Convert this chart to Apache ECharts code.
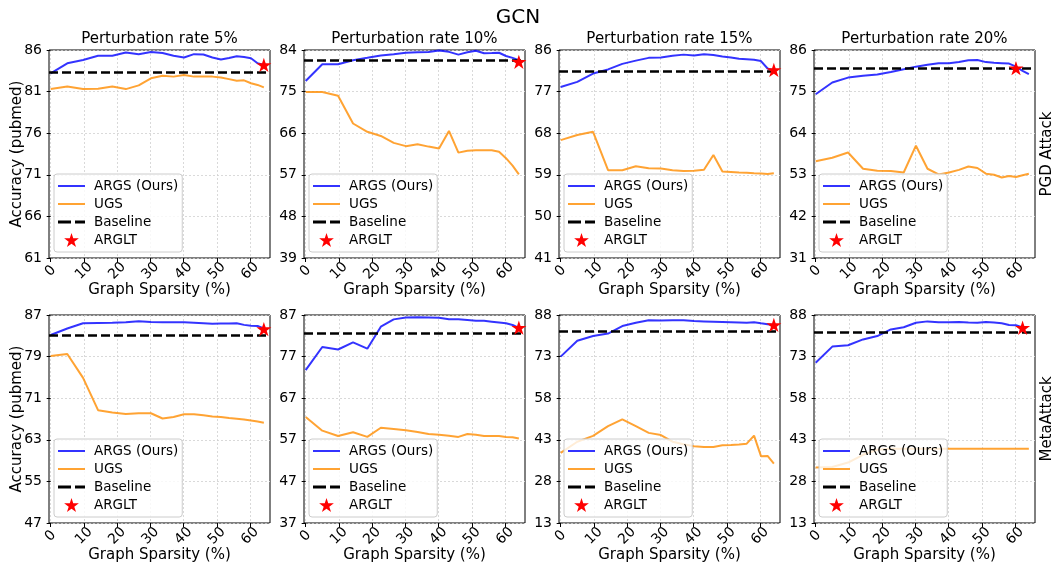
<!DOCTYPE html>
<html><head><meta charset="utf-8">
<script src="https://cdn.jsdelivr.net/npm/echarts@6/dist/echarts.min.js"></script>
<style>html,body{margin:0;padding:0;background:#fff}#c{width:1054px;height:568px}</style>
</head><body><div id="c"></div>
<script>
const sparsity = [0, 5, 9.75, 14.26, 18.55, 22.62, 26.49, 30.17, 33.66, 36.98, 40.13, 43.12, 45.96, 48.67, 51.23, 53.67, 55.99, 58.19, 60.28, 62.26, 64.15];
const xTicks = [0, 10, 20, 30, 40, 50, 60];
const panelTitles = ['Perturbation rate 5%', 'Perturbation rate 10%', 'Perturbation rate 15%', 'Perturbation rate 20%'];
const rowLabels = ['PGD Attack', 'MetaAttack'];
const yTicks = [
  [61, 66, 71, 76, 81, 86], [39, 48, 57, 66, 75, 84], [41, 50, 59, 68, 77, 86], [31, 42, 53, 64, 75, 86],
  [47, 55, 63, 71, 79, 87], [37, 47, 57, 67, 77, 87], [13, 28, 43, 58, 73, 88], [13, 28, 43, 58, 73, 88]
];

const args_pgd_5  = [83.2, 84.4, 84.8, 85.3, 85.3, 85.7, 85.5, 85.75, 85.65, 85.3, 85.1, 85.5, 85.45, 85.1, 84.85, 85.05, 85.25, 85.15, 85.0, 84.4, 84.2];
const ugs_pgd_5   = [81.3, 81.6, 81.3, 81.35, 81.6, 81.3, 81.75, 82.6, 82.9, 82.8, 83.0, 82.8, 82.8, 82.8, 82.7, 82.5, 82.3, 82.35, 82.0, 81.8, 81.5];
const args_pgd_10 = [77.3, 80.9, 80.9, 81.8, 82.3, 82.8, 83.1, 83.4, 83.5, 83.55, 83.9, 83.6, 83.0, 83.5, 83.85, 83.3, 83.35, 83.4, 82.7, 82.3, 81.8];
const ugs_pgd_10  = [74.9, 74.9, 74.1, 68.1, 66.3, 65.4, 63.9, 63.2, 63.6, 63.1, 62.7, 66.5, 61.8, 62.2, 62.3, 62.3, 62.3, 62.0, 60.6, 59.0, 57.1];
const args_pgd_15 = [78.0, 79.1, 80.9, 81.8, 83.0, 83.7, 84.3, 84.4, 84.75, 85.0, 84.8, 85.1, 84.9, 84.6, 84.4, 84.1, 84.0, 83.9, 83.6, 82.0, 81.6];
const ugs_pgd_15  = [66.5, 67.6, 68.3, 60.0, 60.0, 60.85, 60.4, 60.35, 60.0, 59.8, 59.9, 60.1, 63.3, 59.7, 59.6, 59.5, 59.45, 59.35, 59.3, 59.15, 59.35];
const args_pgd_20 = [74.3, 77.4, 78.7, 79.2, 79.5, 80.2, 80.9, 81.6, 82.1, 82.5, 82.5, 82.8, 83.3, 83.35, 82.8, 82.6, 82.5, 82.4, 81.6, 80.5, 79.6];
const ugs_pgd_20  = [56.6, 57.5, 58.9, 54.6, 54.1, 54.0, 53.6, 60.7, 54.6, 53.1, 53.6, 54.3, 55.2, 54.8, 53.3, 53.0, 52.3, 52.7, 52.4, 52.9, 53.3];
const args_meta_5  = [83.15, 84.4, 85.4, 85.45, 85.5, 85.6, 85.8, 85.65, 85.6, 85.6, 85.6, 85.5, 85.4, 85.3, 85.35, 85.35, 85.4, 85.1, 84.95, 84.9, 84.4];
const ugs_meta_5   = [79.1, 79.5, 74.9, 68.7, 68.25, 67.95, 68.1, 68.1, 67.1, 67.4, 67.9, 67.9, 67.7, 67.5, 67.4, 67.2, 67.05, 66.9, 66.7, 66.5, 66.3];
const args_meta_10 = [73.75, 79.3, 78.7, 80.4, 78.9, 84.2, 85.95, 86.4, 86.45, 86.4, 86.35, 86.0, 85.95, 85.8, 85.6, 85.6, 85.4, 85.2, 85.0, 84.6, 83.9];
const ugs_meta_10  = [62.5, 59.2, 57.9, 58.8, 57.7, 59.9, 59.6, 59.3, 58.9, 58.4, 58.2, 58.0, 57.7, 58.4, 58.2, 57.9, 57.9, 57.9, 57.7, 57.6, 57.3];
const args_meta_15 = [73.0, 78.7, 80.4, 81.3, 84.0, 85.2, 86.1, 86.0, 86.1, 86.1, 85.8, 85.7, 85.6, 85.5, 85.4, 85.3, 85.2, 85.4, 85.0, 84.7, 84.4];
const ugs_meta_15  = [38.3, 42.3, 44.4, 47.9, 50.4, 47.9, 45.5, 44.7, 42.3, 41.4, 40.7, 40.4, 40.4, 41.0, 41.1, 41.3, 41.6, 44.5, 37.1, 37.2, 34.4];
const args_meta_20 = [70.8, 76.6, 77.1, 79.2, 80.4, 82.8, 83.6, 85.2, 85.7, 85.4, 85.4, 85.5, 85.3, 85.2, 85.5, 85.3, 85.0, 84.4, 84.3, 83.5, null];
const ugs_meta_20  = [33.0, 33.2, 34.8, 37.6, 39.4, 39.8, 39.8, 39.8, 39.8, 39.8, 39.8, 39.8, 39.8, 39.8, 39.8, 39.8, 39.8, 39.8, 39.8, 39.8, 39.8];

const baseline = [83.3, 81.75, 81.5, 81.05, 83.15, 82.6, 82.2, 81.7];
const argltX = [64.15, 64.15, 64.15, 60.28, 64.15, 64.15, 64.15, 62.26];
const argltY = [84.2, 81.45, 81.7, 81.2, 84.3, 83.95, 84.4, 83.4];

const argsAll = [args_pgd_5, args_pgd_10, args_pgd_15, args_pgd_20, args_meta_5, args_meta_10, args_meta_15, args_meta_20];
const ugsAll = [ugs_pgd_5, ugs_pgd_10, ugs_pgd_15, ugs_pgd_20, ugs_meta_5, ugs_meta_10, ugs_meta_15, ugs_meta_20];

// star marker path
function starPath() {
  let s = '';
  for (let i = 0; i < 10; i++) {
    const a = -Math.PI / 2 + i * Math.PI / 5;
    const r = (i % 2) ? 38.2 : 100;
    const x = (100 + r * Math.cos(a)).toFixed(2), y = (100 + r * Math.sin(a)).toFixed(2);
    s += (i === 0 ? 'M' : 'L') + x + ' ' + y + ' ';
  }
  return 'path://' + s + 'Z';
}
const STAR = starPath();
const LINE_ICON = 'path://M0 0 H27 V2 H0 Z';
const DASH_ICON = 'path://M0 0 H13 V3 H0 Z M17 0 H27 V3 H17 Z';

const FONT = 'DejaVu Sans';
const colLeft = [49, 304, 559, 814];
const rowTop = [50, 315];
const W = 221, H = 208;
const BLUE = 'rgba(0,0,255,0.8)', ORANGE = 'rgba(255,140,0,0.8)';

const grids = [], xAxes = [], yAxes = [], series = [], legends = [], titles = [];
titles.push({ text: 'GCN', left: 518, top: 8, textAlign: 'center', padding: 0,
  textStyle: { fontFamily: FONT, fontSize: 20, fontWeight: 'normal', color: '#000' } });

for (let i = 0; i < 8; i++) {
  const r = Math.floor(i / 4), c = i % 4;
  grids.push({ left: colLeft[c], top: rowTop[r], width: W, height: H, show: true, borderColor: '#000', borderWidth: 1, backgroundColor: 'transparent' });
  xAxes.push({
    type: 'value', gridIndex: i, min: -0.5, max: 66,
    name: 'Graph Sparsity (%)', nameLocation: 'middle', nameGap: 25, nameMoveOverlap: false,
    nameTextStyle: { fontFamily: FONT, fontSize: 15, color: '#000', verticalAlign: 'top' },
    axisLine: { show: false },
    axisTick: { show: true, customValues: xTicks, length: 4, lineStyle: { color: '#000' } },
    axisLabel: { customValues: xTicks, rotate: 45, align: 'center', verticalAlign: 'middle', margin: 13,
      fontFamily: FONT, fontSize: 14, color: '#000' },
    splitLine: { show: true, lineStyle: { color: '#d0d0d0', type: [2, 2], width: 0.8 } }
  });
  const yt = yTicks[i];
  yAxes.push({
    type: 'value', gridIndex: i, min: yt[0], max: yt[yt.length - 1],
    name: c === 0 ? 'Accuracy (pubmed)' : '', nameLocation: 'middle', nameGap: 24, nameMoveOverlap: false,
    nameTextStyle: { fontFamily: FONT, fontSize: 15, color: '#000' },
    axisLine: { show: false },
    axisTick: { show: true, customValues: yt, length: 4, lineStyle: { color: '#000' } },
    axisLabel: { customValues: yt, margin: 7, fontFamily: FONT, fontSize: 14, color: '#000' },
    splitLine: { show: true, lineStyle: { color: '#d0d0d0', type: [2, 2], width: 0.8 } }
  });
  if (r === 0) {
    titles.push({ text: panelTitles[c], left: colLeft[c] + W / 2, top: 32, textAlign: 'center', padding: 0,
      textStyle: { fontFamily: FONT, fontSize: 15, fontWeight: 'normal', color: '#000' } });
  }
  const argsData = [], ugsData = [];
  sparsity.forEach((x, k) => {
    if (argsAll[i][k] != null) argsData.push([x, argsAll[i][k]]);
    if (ugsAll[i][k] != null) ugsData.push([x, ugsAll[i][k]]);
  });
  series.push({ name: 'ARGS (Ours)', type: 'line', xAxisIndex: i, yAxisIndex: i, data: argsData, symbol: 'none',
    color: BLUE, lineStyle: { color: BLUE, width: 2 }, z: 3 });
  series.push({ name: 'UGS', type: 'line', xAxisIndex: i, yAxisIndex: i, data: ugsData, symbol: 'none',
    color: ORANGE, lineStyle: { color: ORANGE, width: 2 }, z: 3 });
  series.push({ name: 'Baseline', type: 'line', xAxisIndex: i, yAxisIndex: i, data: [], symbol: 'none',
    color: '#000', lineStyle: { color: '#000', width: 2.5, type: [9, 4] }, z: 4,
    markLine: { symbol: 'none', silent: true, animation: false, label: { show: false },
      lineStyle: { color: '#000', width: 2.5, type: [9, 4] }, emphasis: { disabled: true },
      data: [{ yAxis: baseline[i] }] } });
  series.push({ name: 'ARGLT', type: 'scatter', xAxisIndex: i, yAxisIndex: i, data: [[argltX[i], argltY[i]]],
    symbol: STAR, symbolSize: 15, symbolKeepAspect: true, color: '#ff0000',
    itemStyle: { color: '#ff0000', opacity: 1 }, z: 5 });
  legends.push({
    orient: 'vertical', left: colLeft[c] + 5, top: rowTop[r] + H - 84,
    padding: [5, 4, 5, 4], itemWidth: 27, itemHeight: 14, itemGap: 4,
    backgroundColor: 'rgba(255,255,255,0.8)', borderColor: '#cccccc', borderWidth: 1, borderRadius: 3,
    symbolKeepAspect: true,
    data: [
      { name: 'ARGS (Ours)', icon: LINE_ICON, itemStyle: { color: BLUE, borderWidth: 0 } },
      { name: 'UGS', icon: LINE_ICON, itemStyle: { color: ORANGE, borderWidth: 0 } },
      { name: 'Baseline', icon: DASH_ICON, itemStyle: { color: '#000', borderWidth: 0 } },
      { name: 'ARGLT', icon: STAR, itemStyle: { color: '#ff0000', borderWidth: 0, opacity: 1 } }
    ],
    textStyle: { fontFamily: FONT, fontSize: 13.5, color: '#000', padding: [0, 0, 0, 4] },
    selectedMode: false, z: 10
  });
}

const graphic = [
  { type: 'text', x: 1047, y: 154, rotation: Math.PI / 2,
    style: { text: rowLabels[0], font: '15px "DejaVu Sans"', fill: '#000', align: 'center', verticalAlign: 'middle' } },
  { type: 'text', x: 1047, y: 419, rotation: Math.PI / 2,
    style: { text: rowLabels[1], font: '15px "DejaVu Sans"', fill: '#000', align: 'center', verticalAlign: 'middle' } }
];

const chart = echarts.init(document.getElementById('c'), null, { renderer: 'canvas' });
chart.setOption({
  animation: false, backgroundColor: '#fff',
  title: titles, grid: grids, xAxis: xAxes, yAxis: yAxes, series: series, legend: legends, graphic: graphic
});
</script>
</body></html>
